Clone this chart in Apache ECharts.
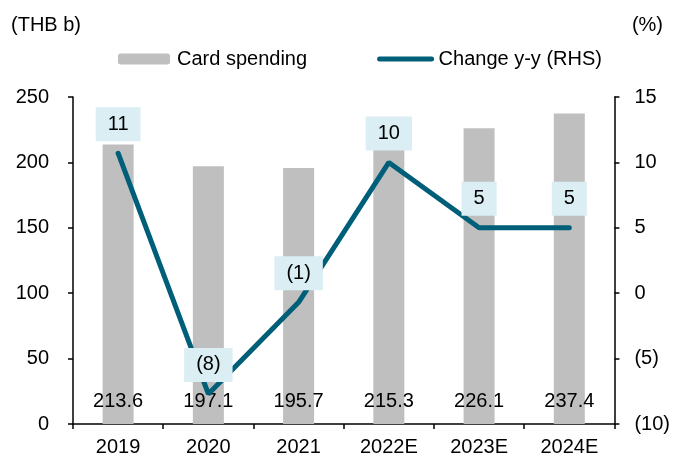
<!DOCTYPE html>
<html>
<head>
<meta charset="utf-8">
<script src="https://cdn.jsdelivr.net/npm/echarts@6/dist/echarts.min.js"></script>
<style>
  html, body { margin: 0; padding: 0; background: #fff; }
  #chart { width: 673px; height: 461px; }
</style>
</head>
<body>
<div id="chart"></div>
<script>
// categories and values
var years = ['2019', '2020', '2021', '2022E', '2023E', '2024E'];
var spending = [213.6, 197.1, 195.7, 215.3, 226.1, 237.4];
var change = [10.7, -7.7, -0.7, 10.0, 5.0, 5.0];

var FONT = '"Liberation Sans", Arial, sans-serif';

// negatives shown in brackets, e.g. (8)
function bracket(v) {
  var r = Math.round(v);
  return r < 0 ? '(' + Math.abs(r) + ')' : String(r);
}

var myChart = echarts.init(document.getElementById('chart'));
var option = {
  animation: false,
  textStyle: { fontFamily: FONT },
  title: [
    { text: '(THB b)', left: 6, top: 10,
      textStyle: { fontSize: 20, fontWeight: 'normal', color: '#000', fontFamily: FONT } },
    { text: '(%)', right: 5, top: 10,
      textStyle: { fontSize: 20, fontWeight: 'normal', color: '#000', fontFamily: FONT } }
  ],
  legend: {
    left: 113,
    top: 44,
    itemWidth: 52,
    itemHeight: 11,
    itemGap: 70,
    textStyle: { fontSize: 20, color: '#000', fontFamily: FONT, padding: [0, 0, 0, 2] },
    data: [
      'Card spending',
      { name: 'Change y-y (RHS)',
        itemStyle: { opacity: 0 },
        lineStyle: { width: 5, cap: 'round', color: '#005F78' } }
    ]
  },
  grid: { left: 73, right: 57, top: 97, bottom: 37 },
  xAxis: {
    type: 'category',
    data: years,
    axisLine: { lineStyle: { color: '#000', width: 1.5 } },
    axisTick: { show: true, length: 5, lineStyle: { color: '#000', width: 1.5 } },
    axisLabel: { fontSize: 20, color: '#000', margin: 13, fontFamily: FONT }
  },
  yAxis: [
    {
      type: 'value', min: 0, max: 250, interval: 50,
      splitLine: { show: false },
      axisLine: { show: true, lineStyle: { color: '#000', width: 1.5 } },
      axisTick: { show: true, length: 5, lineStyle: { color: '#000', width: 1.5 } },
      axisLabel: { fontSize: 20, color: '#000', margin: 24, fontFamily: FONT }
    },
    {
      type: 'value', min: -10, max: 15, interval: 5,
      splitLine: { show: false },
      axisLine: { show: true, lineStyle: { color: '#000', width: 1.5 } },
      axisTick: { show: true, length: 5, lineStyle: { color: '#000', width: 1.5 } },
      axisLabel: { fontSize: 20, color: '#000', margin: 20, fontFamily: FONT,
        formatter: function (v) { return bracket(v); } }
    }
  ],
  series: [
    {
      name: 'Card spending',
      type: 'bar',
      data: spending,
      barWidth: 31,
      itemStyle: { color: '#BFBFBF' },
      label: {
        show: true,
        position: 'insideBottom',
        distance: 13,
        fontSize: 20,
        color: '#000',
        fontFamily: FONT,
        formatter: function (p) { return p.value.toFixed(1); }
      }
    },
    {
      name: 'Change y-y (RHS)',
      type: 'line',
      yAxisIndex: 1,
      data: change,
      symbol: 'none',
      lineStyle: { color: '#005F78', width: 5, cap: 'round' },
      itemStyle: { color: '#005F78' },
      z: 3
    },
    {
      // boxed value labels above the line points
      name: 'labels',
      type: 'scatter',
      yAxisIndex: 1,
      data: change,
      symbolSize: 2,
      itemStyle: { color: 'rgba(0,0,0,0)', opacity: 1 },
      silent: true,
      z: 4,
      label: {
        show: true,
        position: 'top',
        distance: 11,
        fontSize: 20,
        color: '#000',
        opacity: 1,
        fontFamily: FONT,
        backgroundColor: '#DAEEF3',
        padding: [7, 12, 7, 12],
        formatter: function (p) { return bracket(p.value); }
      }
    }
  ]
};
myChart.setOption(option);
</script>
</body>
</html>
